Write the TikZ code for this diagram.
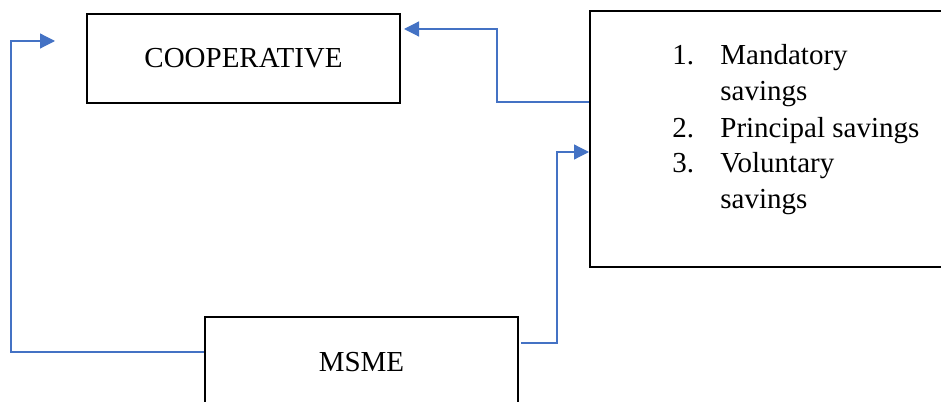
\documentclass[tikz,border=0pt]{standalone}
\usepackage{fontspec}
\setmainfont{Liberation Serif}
\usetikzlibrary{arrows.meta}
\pgfdeclarelayer{edgelayer}
\pgfdeclarelayer{nodelayer}
\pgfsetlayers{edgelayer,nodelayer,main}
\definecolor{linkblue}{HTML}{4472C4}
\tikzset{font=\fontsize{14.5}{18}\selectfont}
\tikzstyle{none}=[inner sep=0pt]
\tikzstyle{box}=[draw=black,line width=1pt,inner sep=0pt]
\tikzstyle{link}=[draw=linkblue,line width=0.6pt,-{Triangle[length=7.5pt,width=7.5pt]}]

\begin{document}
\begin{tikzpicture}[x=0.5pt,y=0.5pt]
	\useasboundingbox (0,0) rectangle (941,-401);
	\begin{pgfonlayer}{nodelayer}
		\node [style=box, minimum width=156.5pt, minimum height=44.5pt] (0) at (243.5, -58.5) {COOPERATIVE};
		\node [style=box, minimum width=156.5pt, minimum height=48pt, text depth=0pt] (1) at (361.5, -365) {\raisebox{3pt}{MSME}};
		\node [style=box, minimum width=177.5pt, minimum height=128pt] (2) at (767.5, -139) {};
		\node [style=none, anchor=base west] (3) at (672, -65) {%
			\begin{tabular}[t]{@{}l@{}l@{}}
				\makebox[24pt][l]{1.} & Mandatory\\
				 & savings\\
				2. & Principal savings\\
				3. & Voluntary\\
				 & savings
			\end{tabular}};
		\coordinate (4) at (404, -29);
		\coordinate (5) at (55, -41);
	\end{pgfonlayer}
	\begin{pgfonlayer}{edgelayer}
		\draw [style=link] ([yshift=18.5pt]2.west) -- ++(-92, 0) |- (4);
		\draw [style=link] ([yshift=6.5pt]1.west) -- ++(-193, 0) |- (5);
		\draw [style=link] ([xshift=1pt, yshift=11pt]1.east) -- ++(36, 0) |- ([yshift=-6.5pt]2.west);
	\end{pgfonlayer}
\end{tikzpicture}
\end{document}
